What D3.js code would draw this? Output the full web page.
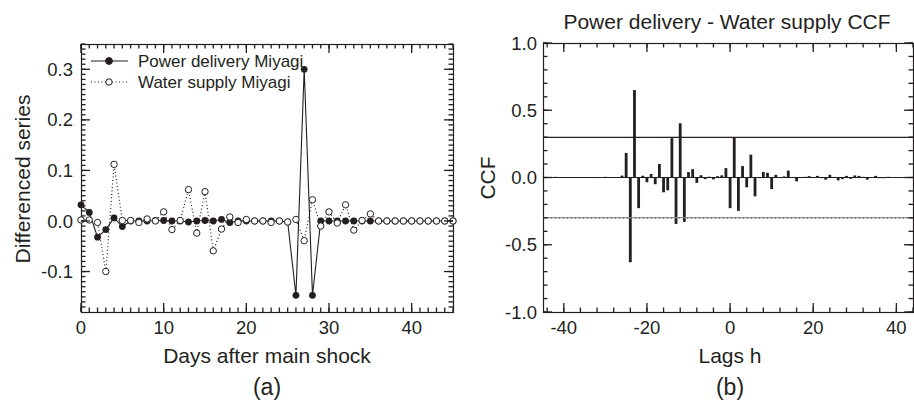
<!DOCTYPE html>
<html>
<head>
<meta charset="utf-8">
<style>
  body {
    margin: 0;
    background-color: #fff;
  }

  svg text {
    font-family: "Liberation Sans", Arial, sans-serif;
    fill: #231f20;
  }
</style>
  <script src="https://d3js.org/d3.v7.min.js"></script>
</head>
<body>
<script>
// (a) differenced daily series, days 0..45 after the main shock
const powerDelivery = [
  0.032, 0.017, -0.032, -0.017, 0.006, -0.011, 0, 0, 0, 0.001,
  0.001, 0, 0, -0.002, 0, 0.001, 0, 0.003, -0.003, 0,
  0, 0, 0, 0, 0, -0.002, -0.147, 0.300, -0.147, 0,
  0, 0, 0, 0, 0, 0, 0, 0, 0, 0,
  0, 0, 0, 0, 0, 0
];
const waterSupply = [
  0.002, 0.002, -0.003, -0.100, 0.112, 0.001, 0.001, -0.003, 0.004, 0,
  0.018, -0.017, 0.001, 0.062, -0.024, 0.058, -0.059, -0.016, 0.008, -0.003,
  0.003, 0, 0, -0.003, 0, -0.002, 0.003, -0.039, 0.042, -0.010,
  0.018, -0.004, 0.032, -0.018, 0.001, 0.014, 0, 0, 0, 0,
  0, 0, 0, 0, 0, 0
];
const seriesNames = ['Power delivery Miyagi', 'Water supply Miyagi'];
const daysTicks = [0, 10, 20, 30, 40];
const diffTicks = [-0.1, 0.0, 0.1, 0.2, 0.3];

// (b) cross-correlation, lags -44..44
const lagFirst = -44;
const ccf = [
  0, 0, 0.005, 0, 0, 0, 0, 0, 0, 0,
  0, 0, 0.004, 0, 0.005, 0, 0, 0, 0.014, 0.183,
  -0.63, 0.65, -0.228, 0.013, -0.035, 0.026, -0.05, 0.10, -0.11, -0.095,
  0.292, -0.345, 0.403, -0.33, 0.04, 0.062, -0.04, 0.017, -0.012, 0.006,
  -0.014, 0.01, 0.016, 0.07, -0.228, 0.298, -0.248, 0.085, -0.073, 0.17,
  -0.14, -0.004, 0.041, 0.035, -0.086, 0.02, 0.002, 0.008, 0.051, 0.002,
  -0.028, -0.004, 0.005, 0.01, 0.002, 0.012, -0.005, -0.016, 0.02, 0.002,
  -0.021, -0.012, 0.012, -0.01, 0.015, 0.012, 0.005, -0.016, 0.002, 0.012,
  -0.005, -0.005, 0.005, -0.003, 0.004, -0.003, 0.003, 0.002, 0
];
const confLimit = 0.298;
const lagTicks = [-40, -20, 0, 20, 40];
const ccfTicks = [-1.0, -0.5, 0.0, 0.5, 1.0];

const ink = '#231f20';
const tickFont = '18.5px';
const titleFont = '21px';

// plain hyphen for negatives, like the original figure
const fmtInt = d => String(d);
const fmtDec = d => d3.format('.1f')(d).replace('\u2212', '-');

const svg = d3.select('body')
  .append('svg')
  .attr('width', 914)
  .attr('height', 402);

// frame plus tick labels; the tick marks themselves go on top at the end
const drawFrame = (g, x, y, opts) => {
  const [x0, x1] = x.range();
  const [y0, y1] = y.range();

  g.append('rect')
    .attr('x', x0 + 0.5).attr('y', y1 + 0.5)
    .attr('width', x1 - x0).attr('height', y0 - y1)
    .attr('fill', 'none')
    .attr('stroke', ink)
    .attr('stroke-width', 1.2);

  g.append('g')
    .selectAll('text')
    .data(opts.xMajor)
    .join('text')
    .attr('x', d => x(d))
    .attr('y', y0 + 21.5)
    .attr('text-anchor', 'middle')
    .style('font-size', tickFont)
    .text(opts.xFormat);

  g.append('g')
    .selectAll('text')
    .data(opts.yMajor)
    .join('text')
    .attr('x', x0 - opts.yPad)
    .attr('y', d => y(d) + 6.6)
    .attr('text-anchor', 'end')
    .style('font-size', tickFont)
    .text(fmtDec);
};

// inward tick marks on all four sides, drawn as small filled rects
const drawTicks = (x, y, opts) => {
  const [x0, x1] = x.range();
  const [y0, y1] = y.range();
  const w = 1.3;
  const g = svg.append('g').attr('fill', ink);

  const xTicks = [
    ...opts.xMinor.map(v => ({ v, len: opts.minor })),
    ...opts.xMajor.map(v => ({ v, len: opts.major })),
  ];
  const yTicks = [
    ...opts.yMinor.map(v => ({ v, len: opts.minor })),
    ...opts.yMajor.map(v => ({ v, len: opts.major })),
  ];

  g.selectAll('.tb')
    .data(xTicks)
    .join('rect')
    .attr('class', 'tb')
    .attr('x', d => x(d.v) - w / 2)
    .attr('y', d => y0 - d.len)
    .attr('width', w)
    .attr('height', d => d.len);

  g.selectAll('.tt')
    .data(xTicks)
    .join('rect')
    .attr('class', 'tt')
    .attr('x', d => x(d.v) - w / 2)
    .attr('y', y1)
    .attr('width', w)
    .attr('height', d => d.len);

  g.selectAll('.tl')
    .data(yTicks)
    .join('rect')
    .attr('class', 'tl')
    .attr('x', x0)
    .attr('y', d => y(d.v) - w / 2)
    .attr('width', d => d.len)
    .attr('height', w);

  g.selectAll('.tr')
    .data(yTicks)
    .join('rect')
    .attr('class', 'tr')
    .attr('x', d => x1 - d.len)
    .attr('y', d => y(d.v) - w / 2)
    .attr('width', d => d.len)
    .attr('height', w);
};

// ---------- panel (a) ----------
const xa = d3.scaleLinear().domain([0, 45]).range([81, 453]);
const ya = d3.scaleLinear().domain([-0.18, 0.35]).range([312, 44]);
const ga = svg.append('g');

const ticksA = {
  xMajor: daysTicks,
  xMinor: d3.range(0, 46, 1),
  xFormat: fmtInt,
  yMajor: diffTicks,
  yMinor: d3.range(-17, 36, 1).map(d => d / 100),
  major: 9,
  minor: 4.5,
  yPad: 8,
};
drawFrame(ga, xa, ya, ticksA);

const lineA = d3.line().x((d, i) => xa(i)).y(d => ya(d));

ga.append('path')
  .datum(powerDelivery)
  .attr('d', lineA)
  .attr('fill', 'none')
  .attr('stroke', ink)
  .attr('stroke-width', 1.1);

ga.append('path')
  .datum(waterSupply)
  .attr('d', lineA)
  .attr('fill', 'none')
  .attr('stroke', ink)
  .attr('stroke-width', 1.2)
  .attr('stroke-dasharray', '1,2.5');

ga.selectAll('.pd')
  .data(powerDelivery)
  .join('circle')
  .attr('class', 'pd')
  .attr('cx', (d, i) => xa(i))
  .attr('cy', d => ya(d))
  .attr('r', 3.4)
  .attr('fill', ink);

ga.selectAll('.ws')
  .data(waterSupply)
  .join('circle')
  .attr('class', 'ws')
  .attr('cx', (d, i) => xa(i))
  .attr('cy', d => ya(d))
  .attr('r', 3.2)
  .attr('fill', '#fff')
  .attr('stroke', ink)
  .attr('stroke-width', 1);

// legend
const legend = ga.append('g');
seriesNames.forEach((name, i) => {
  const ly = 61 + i * 21;
  legend.append('line')
    .attr('x1', 91).attr('x2', 128)
    .attr('y1', ly).attr('y2', ly)
    .attr('stroke', ink)
    .attr('stroke-width', i === 0 ? 1.1 : 1.2)
    .attr('stroke-dasharray', i === 0 ? null : '1,2.5');
  legend.append('circle')
    .attr('cx', 109).attr('cy', ly)
    .attr('r', i === 0 ? 3.4 : 3.2)
    .attr('fill', i === 0 ? ink : '#fff')
    .attr('stroke', ink);
  legend.append('text')
    .attr('x', 138).attr('y', ly + 6)
    .style('font-size', '17px')
    .text(name);
});

svg.append('text')
  .attr('transform', 'translate(30,179) rotate(-90)')
  .attr('text-anchor', 'middle')
  .style('font-size', titleFont)
  .text('Differenced series');

svg.append('text')
  .attr('x', 267).attr('y', 363)
  .attr('text-anchor', 'middle')
  .style('font-size', titleFont)
  .text('Days after main shock');

svg.append('text')
  .attr('x', 267).attr('y', 395)
  .attr('text-anchor', 'middle')
  .style('font-size', '23px')
  .text('(a)');

// ---------- panel (b) ----------
const xb = d3.scaleLinear().domain([-45, 44]).range([543, 913]);
const yb = d3.scaleLinear().domain([-1, 1]).range([312, 43]);
const gb = svg.append('g');

const ticksB = {
  xMajor: lagTicks,
  xMinor: d3.range(-44, 45, 4),
  xFormat: d => String(d),
  yMajor: ccfTicks,
  yMinor: d3.range(-10, 11, 1).map(d => d / 10),
  major: 9,
  minor: 4.5,
  yPad: 6,
};
drawFrame(gb, xb, yb, ticksB);

const barW = 2.8;
gb.selectAll('.bar')
  .data(ccf)
  .join('rect')
  .attr('class', 'bar')
  .attr('x', (d, i) => xb(lagFirst + i) - barW / 2)
  .attr('y', d => yb(Math.max(d, 0)))
  .attr('width', barW)
  .attr('height', d => Math.abs(yb(d) - yb(0)))
  .attr('fill', ink);

const [bx0, bx1] = xb.range();
gb.append('line')
  .attr('x1', bx0).attr('x2', bx1)
  .attr('y1', yb(0)).attr('y2', yb(0))
  .attr('stroke', ink)
  .attr('stroke-width', 1.1);
gb.append('line')
  .attr('x1', bx0).attr('x2', bx1)
  .attr('y1', yb(confLimit)).attr('y2', yb(confLimit))
  .attr('stroke', ink)
  .attr('stroke-width', 1.1);
gb.append('line')
  .attr('x1', bx0).attr('x2', bx1)
  .attr('y1', yb(-confLimit)).attr('y2', yb(-confLimit))
  .attr('stroke', '#8c8c8c')
  .attr('stroke-width', 1.2);
gb.append('line')
  .attr('x1', bx0).attr('x2', bx1)
  .attr('y1', yb(-confLimit) + 0.6).attr('y2', yb(-confLimit) + 0.6)
  .attr('stroke', '#555')
  .attr('stroke-width', 1)
  .attr('stroke-dasharray', '1,3');

svg.append('text')
  .attr('x', 727).attr('y', 29)
  .attr('text-anchor', 'middle')
  .style('font-size', titleFont)
  .text('Power delivery - Water supply CCF');

svg.append('text')
  .attr('transform', 'translate(495,178) rotate(-90)')
  .attr('text-anchor', 'middle')
  .style('font-size', titleFont)
  .text('CCF');

svg.append('text')
  .attr('x', 730).attr('y', 363)
  .attr('text-anchor', 'middle')
  .style('font-size', titleFont)
  .text('Lags h');

svg.append('text')
  .attr('x', 730).attr('y', 395)
  .attr('text-anchor', 'middle')
  .style('font-size', '23px')
  .text('(b)');

// tick marks last so nothing sits on top of them
drawTicks(xa, ya, ticksA);
drawTicks(xb, yb, ticksB);
</script>
</body>
</html>
